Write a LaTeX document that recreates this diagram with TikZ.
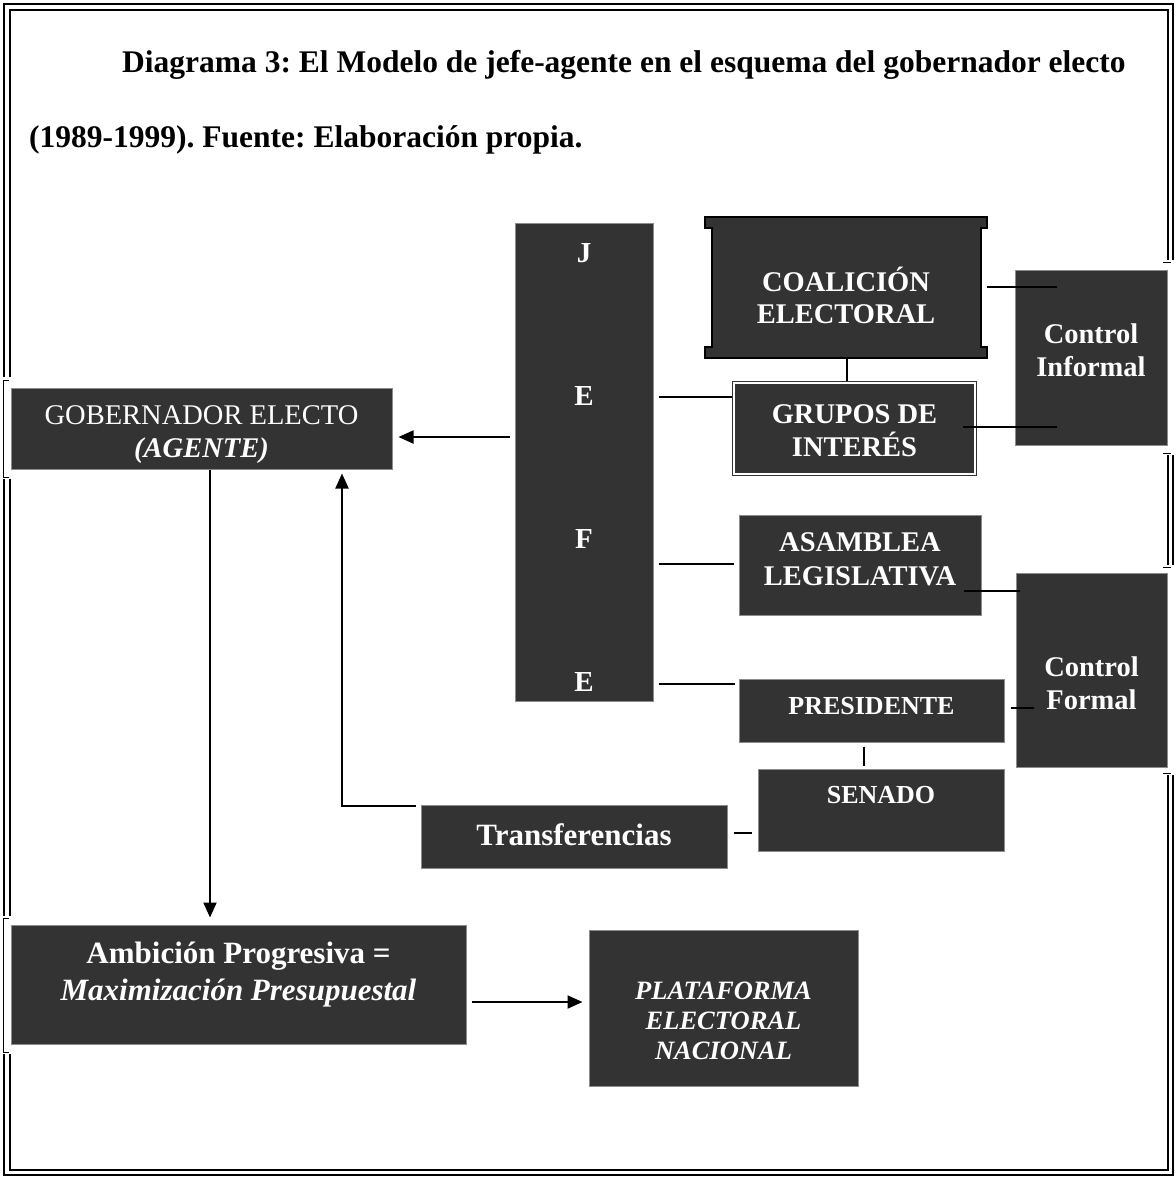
\documentclass[tikz,border=0pt]{standalone}
\usepackage{fontspec}
\setmainfont{Liberation Serif}
\frenchspacing
\usetikzlibrary{arrows.meta,calc}
\definecolor{boxfill}{HTML}{333333}
\begin{document}
\begin{tikzpicture}[x=1pt,y=-1pt,
  box/.style={rectangle, fill=boxfill, draw=black!45, line width=1pt, inner sep=0pt},
  txt/.style={text=white, inner sep=0pt, anchor=base},
  fR/.style={font=\fontsize{28.5}{33}\selectfont},
  fB/.style={font=\fontsize{28.5}{33}\selectfont\bfseries},
  fBI/.style={font=\fontsize{28.5}{33}\selectfont\bfseries\itshape},
  fS/.style={font=\fontsize{26}{30}\selectfont\bfseries},
  fL/.style={font=\fontsize{31}{36}\selectfont\bfseries},
  fLI/.style={font=\fontsize{31}{36}\selectfont\bfseries\itshape},
  fP/.style={font=\fontsize{26.5}{30}\selectfont\bfseries\itshape},
  fJ/.style={font=\fontsize{29}{33}\selectfont\bfseries},
  ttl/.style={anchor=base west, inner sep=0pt, font=\fontsize{31.5}{36}\selectfont\bfseries},
  ln/.style={draw=black, line width=2pt},
  arr/.style={ln, -{Triangle[length=15pt,width=13pt]}},
  bo/.style={draw=black, line width=2.5pt},
  bi/.style={draw=black, line width=1.6pt},
  bt/.style={draw=black, line width=1pt},
]
\useasboundingbox (0,0) rectangle (1176,1179);

% page frame
\draw[bo] (4,377) -- (4,4) -- (1173,4) -- (1173,260);
\draw[bo] (1173,455) -- (1173,565);
\draw[bo] (1173,775) -- (1173,1175) -- (4,1175) -- (4,1054);
\draw[bo] (4,916) -- (4,479);
\draw[bi] (10,377) -- (10,10) -- (1168,10) -- (1168,260);
\draw[bi] (1168,455) -- (1168,565);
\draw[bi] (1168,775) -- (1168,1170) -- (10,1170) -- (10,1054);
\draw[bi] (10,916) -- (10,479);
\draw[bt] (9,380) -- (3,380) -- (3,477) -- (9,477);
\draw[bt] (9,918) -- (3,918) -- (3,1052) -- (9,1052);
\draw[bt] (1163,262) -- (1171,262);
\draw[bt] (1163,453) -- (1171,453);
\draw[bt] (1163,567) -- (1171,567);
\draw[bt] (1163,773) -- (1171,773);

% title
\node[ttl] (title1) at (122,72) {Diagrama 3: El Modelo de jefe-agente en el esquema del gobernador electo};
\node[ttl] (title2) at (29,147) {(1989-1999). Fuente: Elaboración propia.};

% boxes
\node[box, minimum width=381pt, minimum height=81pt] (gob) at (201.5,428.5) {};
\node[box, minimum width=138pt, minimum height=478pt] (jefe) at (584,462) {};
\node[inner sep=0pt, minimum width=282pt, minimum height=141pt] (coal) at (846,287.5) {};
\draw[draw=black, line width=2pt, fill=boxfill]
  (coal.north west) -- (coal.north east) -- ++(0,11) -- ++(-6,0) -- ++(0,119) -- ++(6,0)
  -- (coal.south east) -- (coal.south west) -- ++(0,-11) -- ++(7,0) -- ++(0,-119) -- ++(-7,0) -- cycle;
\node[box, draw=boxfill, double=white, double distance=2pt, line width=1.3pt,
      minimum width=241pt, minimum height=91pt] (grupos) at (854.5,428.5) {};
\node[box, minimum width=152pt, minimum height=175pt] (ctrlI) at (1091,357.5) {};
\node[box, minimum width=242pt, minimum height=100pt] (asam) at (860,565) {};
\node[box, minimum width=151pt, minimum height=194pt] (ctrlF) at (1091.5,670) {};
\node[box, minimum width=265pt, minimum height=63pt] (pres) at (871.5,710.5) {};
\node[box, minimum width=246pt, minimum height=82pt] (sen) at (881,810) {};
\node[box, minimum width=306pt, minimum height=63pt] (transf) at (574,836.5) {};
\node[box, minimum width=455pt, minimum height=119pt] (amb) at (238.5,984.5) {};
\node[box, minimum width=269pt, minimum height=156pt] (plat) at (723.5,1008) {};

% texts
\node[txt,fR] (tgob1) at (201.5,424) {GOBERNADOR ELECTO};
\node[txt,fBI] (tgob2) at (201.5,457) {(AGENTE)};
\node[txt,fJ] (tj1) at (584,262) {J};
\node[txt,fJ] (tj2) at (584,405) {E};
\node[txt,fJ] (tj3) at (584,548) {F};
\node[txt,fJ] (tj4) at (584,691) {E};
\node[txt,fB] (tcoal1) at (846,291) {COALICIÓN};
\node[txt,fB] (tcoal2) at (846,323) {ELECTORAL};
\node[txt,fB] (tgru1) at (854.5,423) {GRUPOS DE};
\node[txt,fB] (tgru2) at (854.5,456) {INTERÉS};
\node[txt,fB] (tci1) at (1091,343) {Control};
\node[txt,fB] (tci2) at (1091,376) {Informal};
\node[txt,fB] (tas1) at (860,551) {ASAMBLEA};
\node[txt,fB] (tas2) at (860,585) {LEGISLATIVA};
\node[txt,fB] (tcf1) at (1091.5,676) {Control};
\node[txt,fB] (tcf2) at (1091.5,709) {Formal};
\node[txt,fS] (tpres) at (871.5,714) {PRESIDENTE};
\node[txt,fS] (tsen) at (881,803) {SENADO};
\node[txt,fL] (ttra) at (574,845) {Transferencias};
\node[txt,fL] (tamb1) at (238.5,963) {Ambición Progresiva =};
\node[txt,fLI] (tamb2) at (238.5,1000) {Maximización Presupuestal};
\node[txt,fP] (tpl1) at (723.5,999) {PLATAFORMA};
\node[txt,fP] (tpl2) at (723.5,1029) {ELECTORAL};
\node[txt,fP] (tpl3) at (723.5,1059) {NACIONAL};

% connectors
\draw[arr] ($(jefe.west |- 0,437)+(-5,0)$) -- ($(gob.east |- 0,437)+(6,0)$);
\draw[ln] ($(jefe.east |- 0,397)+(5,0)$) -- ($(grupos.west |- 0,397)+(-1,0)$);
\draw[ln] (coal.south -| 847,0) -- ($(grupos.north -| 847,0)+(0,-1)$);
\draw[ln] (coal.east |- 0,287) -- ($(ctrlI.west |- 0,287)+(42,0)$);
\draw[ln] ($(grupos.east |- 0,427)+(-13,0)$) -- ($(ctrlI.west |- 0,427)+(42,0)$);
\draw[ln] ($(jefe.east |- 0,564)+(5,0)$) -- ($(asam.west |- 0,564)+(-5,0)$);
\draw[ln] ($(asam.east |- 0,591)+(-18,0)$) -- ($(ctrlF.west |- 0,591)+(4,0)$);
\draw[ln] ($(jefe.east |- 0,684)+(5,0)$) -- ($(pres.west |- 0,684)+(-4,0)$);
\draw[ln] ($(pres.east |- 0,708)+(6,0)$) -- ($(ctrlF.west |- 0,708)+(18,0)$);
\draw[ln] ($(pres.south -| 864,0)+(0,4)$) -- ($(sen.north -| 864,0)+(0,-3)$);
\draw[ln] ($(transf.east |- 0,833)+(6,0)$) -- ($(sen.west |- 0,833)+(-6,0)$);
\draw[arr] ($(transf.west |- 0,806)+(-5,0)$) -| ($(gob.south -| 342,0)+(0,4)$);
\draw[arr] (gob.south -| 210,0) -- ($(amb.north -| 210,0)+(0,-7)$);
\draw[arr] ($(amb.east |- 0,1002)+(5,0)$) -- ($(plat.west |- 0,1002)+(-6,0)$);
\end{tikzpicture}
\end{document}
